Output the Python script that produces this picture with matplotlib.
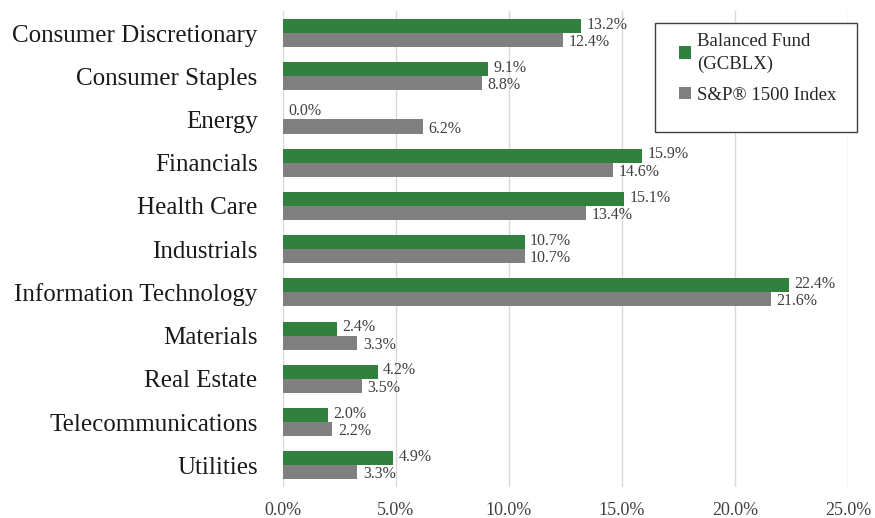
import matplotlib.pyplot as plt
from matplotlib.patches import Rectangle
import numpy as np

sectors = ["Consumer Discretionary", "Consumer Staples", "Energy", "Financials",
           "Health Care", "Industrials", "Information Technology", "Materials",
           "Real Estate", "Telecommunications", "Utilities"]
fund = [13.2, 9.1, 0.0, 15.9, 15.1, 10.7, 22.4, 2.4, 4.2, 2.0, 4.9]
index = [12.4, 8.8, 6.2, 14.6, 13.4, 10.7, 21.6, 3.3, 3.5, 2.2, 3.3]
xticks = [0, 5, 10, 15, 20, 25]

GREEN = "#31803e"
GRAY = "#808080"


def main():
    plt.rcParams["font.family"] = ["Liberation Serif", "DejaVu Serif"]
    fig = plt.figure(figsize=(8.75, 5.18), dpi=100)
    ax = fig.add_axes([0.323, 0.06, 0.646, 0.918])

    y = np.arange(len(sectors))
    h = 0.325
    b1 = ax.barh(y - h / 2, fund, height=h, color=GREEN, label="Balanced Fund\n(GCBLX)", zorder=3)
    b2 = ax.barh(y + h / 2, index, height=h, color=GRAY, label="S&P® 1500 Index", zorder=3)

    # value labels, green nudged up and gray nudged down a touch
    for vals, off, dy in ((fund, -h / 2, 1.0), (index, h / 2, -1.5)):
        for yi, v in zip(y, vals):
            ax.annotate(f"{v:.1f}%", (v, yi + off), xytext=(4, dy),
                        textcoords="offset points", va="center", ha="left",
                        fontsize=11.5, color="#404040", zorder=4)

    ax.set_ylim(len(sectors) - 0.5, -0.5)
    ax.set_yticks(y)
    ax.set_yticklabels(sectors, fontsize=18, color="#1a1a1a")
    ax.set_xlim(0, 25)
    ax.set_xticks(xticks)
    ax.set_xticklabels([f"{t:.1f}%" for t in xticks], fontsize=13, color="#404040")
    ax.tick_params(axis="y", length=0, pad=18)
    ax.tick_params(axis="x", length=0, pad=11)
    ax.grid(axis="x", color="#d9d9d9", linewidth=1, zorder=0)
    for s in ax.spines.values():
        s.set_visible(False)

    # legend box drawn like the Excel one, with empty space at the bottom
    fig.patches.append(Rectangle((655 / 875, 1 - 132 / 518), 202 / 875, 109 / 518,
                                 transform=fig.transFigure, fill=True, facecolor="white",
                                 edgecolor="#404040", linewidth=1, zorder=5))
    leg = fig.legend(handles=[b1, b2], loc="upper left",
                     bbox_to_anchor=(664 / 875, 1 - 18 / 518), fontsize=13.5,
                     frameon=False, handlelength=0.65, handleheight=0.65,
                     handletextpad=0.3, borderpad=0.3, labelspacing=0.75)
    leg.set_zorder(6)
    for t in leg.get_texts():
        t.set_color("#262626")
        t.set_linespacing(1.4)

    fig.savefig("out.png")


if __name__ == "__main__":
    main()
